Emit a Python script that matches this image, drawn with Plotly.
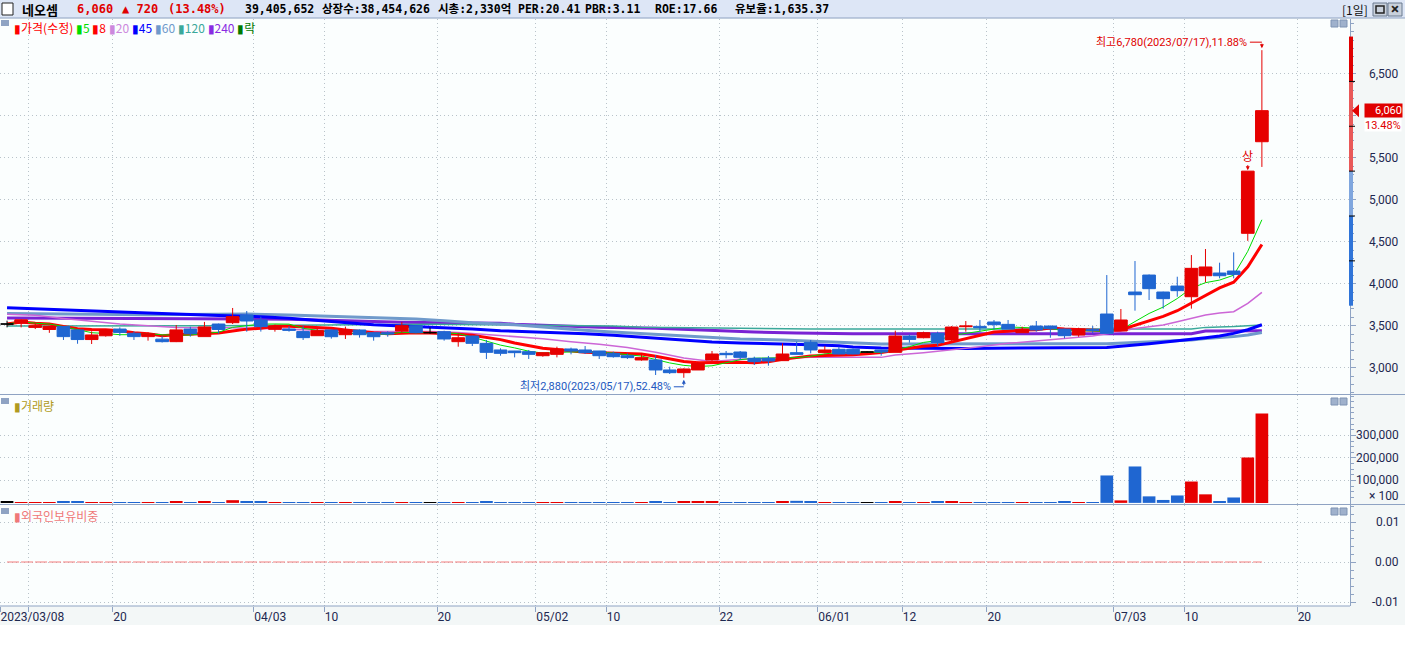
import numpy as np
import pandas as pd
import plotly.graph_objects as go

# 네오셈 일봉 2023/03/08 ~ 2023/07/17
dates = [
    "2023-03-08", "2023-03-09", "2023-03-10", "2023-03-13", "2023-03-14", "2023-03-15", "2023-03-16",
    "2023-03-17", "2023-03-20", "2023-03-21", "2023-03-22", "2023-03-23", "2023-03-24", "2023-03-27",
    "2023-03-28", "2023-03-29", "2023-03-30", "2023-03-31",
    "2023-04-03", "2023-04-04", "2023-04-05", "2023-04-06", "2023-04-07", "2023-04-10", "2023-04-11",
    "2023-04-12", "2023-04-13", "2023-04-14", "2023-04-17", "2023-04-18", "2023-04-19", "2023-04-20",
    "2023-04-21", "2023-04-24", "2023-04-25", "2023-04-26", "2023-04-27", "2023-04-28",
    "2023-05-02", "2023-05-03", "2023-05-04", "2023-05-08", "2023-05-09", "2023-05-10", "2023-05-11",
    "2023-05-12", "2023-05-15", "2023-05-16", "2023-05-17", "2023-05-18", "2023-05-19", "2023-05-22",
    "2023-05-23", "2023-05-24", "2023-05-25", "2023-05-26", "2023-05-30", "2023-05-31",
    "2023-06-01", "2023-06-02", "2023-06-05", "2023-06-07", "2023-06-08", "2023-06-09", "2023-06-12",
    "2023-06-13", "2023-06-14", "2023-06-15", "2023-06-16", "2023-06-19", "2023-06-20", "2023-06-21",
    "2023-06-22", "2023-06-23", "2023-06-26", "2023-06-27", "2023-06-28", "2023-06-29", "2023-06-30",
    "2023-07-03", "2023-07-04", "2023-07-05", "2023-07-06", "2023-07-07", "2023-07-10", "2023-07-11",
    "2023-07-12", "2023-07-13", "2023-07-14", "2023-07-17",
]

opens = [3520, 3530, 3480, 3455, 3490, 3450, 3335, 3380, 3460, 3410,
         3370, 3340, 3310, 3460, 3370, 3520, 3536, 3627, 3568, 3457,
         3460, 3430, 3381, 3449, 3393, 3449, 3417, 3417, 3437, 3500,
         3417, 3429, 3310, 3377, 3290, 3211, 3199, 3191, 3143, 3159,
         3223, 3211, 3199, 3171, 3143, 3092, 3092, 2973, 2941, 2973,
         3092, 3171, 3187, 3112, 3112, 3084, 3179, 3302, 3179, 3219,
         3219, 3187, 3211, 3183, 3377, 3357, 3409, 3330, 3488, 3492,
         3544, 3516, 3417, 3496, 3496, 3460, 3389, 3456, 3639, 3437,
         3901, 4103, 3901, 3972, 3845, 4095, 4127, 4151, 4600, 5690]
highs = [3560, 3575, 3530, 3495, 3490, 3455, 3433, 3460, 3480, 3433,
         3420, 3375, 3508, 3488, 3545, 3525, 3711, 3675, 3608, 3512,
         3496, 3500, 3465, 3455, 3489, 3455, 3420, 3433, 3545, 3505,
         3477, 3440, 3409, 3380, 3330, 3231, 3200, 3211, 3183, 3250,
         3239, 3258, 3200, 3191, 3171, 3171, 3151, 3012, 2993, 3072,
         3199, 3199, 3199, 3131, 3140, 3290, 3310, 3330, 3258, 3250,
         3230, 3195, 3215, 3441, 3397, 3429, 3429, 3496, 3556, 3568,
         3568, 3568, 3488, 3556, 3500, 3465, 3476, 3496, 4103, 3699,
         4270, 4110, 3905, 4083, 4341, 4413, 4250, 4373, 5340, 6780]
lows = [3480, 3480, 3460, 3415, 3330, 3285, 3282, 3370, 3380, 3330,
        3322, 3300, 3305, 3370, 3370, 3405, 3520, 3429, 3430, 3429,
        3429, 3330, 3381, 3346, 3342, 3358, 3322, 3369, 3417, 3409,
        3405, 3322, 3250, 3258, 3104, 3143, 3123, 3104, 3131, 3123,
        3159, 3163, 3104, 3120, 3104, 3084, 2913, 2925, 2880, 2973,
        3080, 3112, 3092, 3032, 3024, 3084, 3159, 3171, 3171, 3159,
        3159, 3180, 3143, 3183, 3298, 3350, 3258, 3318, 3429, 3429,
        3457, 3460, 3417, 3429, 3357, 3350, 3369, 3409, 3405, 3437,
        3679, 3806, 3703, 3845, 3703, 4016, 4064, 4064, 4510, 5390]
closes = [3520, 3570, 3500, 3490, 3370, 3335, 3390, 3450, 3420, 3370,
          3405, 3310, 3450, 3405, 3485, 3455, 3608, 3556, 3489, 3496,
          3445, 3358, 3441, 3369, 3449, 3393, 3369, 3401, 3500, 3417,
          3417, 3342, 3357, 3290, 3183, 3171, 3179, 3159, 3179, 3223,
          3199, 3179, 3143, 3131, 3120, 3120, 2973, 2941, 2985, 3052,
          3163, 3155, 3123, 3072, 3080, 3163, 3159, 3211, 3211, 3163,
          3163, 3187, 3187, 3377, 3337, 3417, 3298, 3484, 3496, 3476,
          3512, 3460, 3449, 3449, 3464, 3381, 3460, 3441, 3409, 3568,
          3869, 3941, 3822, 3917, 4183, 4199, 4095, 4111, 5340, 6060]

# 거래량 (단위 x100)
volumes = [4000, 3500, 2500, 3000, 4500, 5000, 3500, 3000, 2500, 3000,
           2500, 2000, 5500, 3500, 4500, 3000, 12000, 5000, 4000, 3000,
           2000, 3500, 2500, 3000, 3000, 2500, 2500, 2000, 3500, 3000,
           1500, 3500, 3000, 3500, 5000, 2500, 2000, 2500, 2000, 3000,
           2000, 2500, 3000, 2000, 2000, 2500, 6000, 3000, 4500, 4000,
           5500, 2500, 3000, 3500, 3000, 5000, 9000, 4000, 2500, 2500,
           2000, 1500, 2500, 8000, 3500, 3000, 4000, 5000, 3000, 3000,
           2500, 3000, 2500, 3000, 2500, 4000, 3000, 2000, 122000, 11000,
           162000, 29000, 13000, 33000, 95000, 38000, 4000, 24000, 202000, 398000]

foreign_ratio = [0.0] * len(dates)

# 장기 이동평균 (차트에서 읽은 값, 캔들 번호 기준)
ma20_idx = [0, 2, 4, 6, 7, 8, 10, 12, 16, 19, 22, 26, 30, 32, 35, 38, 40, 42, 44, 46,
            48, 50, 52, 54, 57, 62, 63, 65, 67, 69, 71, 73, 75, 77, 78, 79, 80, 81, 82, 83,
            84, 85, 86, 87, 88, 89]
ma20_val = [3635, 3625, 3585, 3555, 3540, 3520, 3500, 3480, 3477, 3457, 3445, 3430, 3430, 3420, 3385,
            3345, 3310, 3280, 3240, 3185, 3115, 3075, 3100, 3112, 3125, 3123, 3150, 3179, 3211, 3250,
            3290, 3318, 3349, 3377, 3405, 3437, 3468, 3488, 3508, 3548, 3588, 3627, 3650, 3667, 3766, 3897]
ma45_idx = [0, 5, 10, 15, 18, 20, 22, 24, 26, 28, 31, 33, 35, 38, 41, 43, 45, 47, 49, 50,
            52, 55, 57, 59, 60, 62, 68, 78, 79, 80, 81, 82, 83, 84, 85, 86, 87, 88, 89]
ma45_val = [3715, 3687, 3651, 3620, 3607, 3588, 3560, 3536, 3512, 3496, 3477, 3461, 3441, 3425, 3405,
            3385, 3362, 3342, 3322, 3306, 3294, 3285, 3274, 3260, 3246, 3235, 3230, 3242, 3254, 3270,
            3286, 3302, 3318, 3333, 3357, 3377, 3409, 3452, 3511]
ma60_idx = [0, 5, 10, 15, 17, 20, 23, 26, 29, 31, 33, 36, 38, 40, 42, 44, 46, 48, 50, 52,
            55, 58, 60, 62, 78, 80, 82, 84, 85, 87, 88, 89]
ma60_val = [3645, 3635, 3631, 3635, 3639, 3627, 3610, 3600, 3580, 3560, 3536, 3512, 3481, 3457, 3433,
            3413, 3393, 3377, 3358, 3342, 3330, 3310, 3290, 3282, 3285, 3298, 3310, 3330, 3349, 3370,
            3390, 3420]
ma120_idx = [0, 15, 30, 40, 43, 45, 56, 57, 84, 85, 87, 89]
ma120_val = [3496, 3500, 3516, 3505, 3496, 3481, 3470, 3462, 3460, 3480, 3490, 3508]
ma240_idx = [0, 11, 14, 20, 24, 28, 31, 35, 36, 39, 42, 46, 49, 51, 53, 56, 60, 84, 85, 89]
ma240_val = [3592, 3588, 3582, 3578, 3560, 3540, 3536, 3530, 3516, 3496, 3481, 3469, 3449, 3437, 3425,
             3413, 3405, 3405, 3437, 3440]

# x축 눈금 (캔들 번호, 라벨)
tick_idx = [0, 2, 8, 18, 23, 31, 38, 43, 51, 58, 64, 70, 79, 84, 92]
tick_text = ["2023/03/08", "", "20", "04/03", "10", "20", "05/02", "10", "22", "06/01",
             "12", "20", "07/03", "10", "20"]
price_ticks = [3000, 3500, 4000, 4500, 5000, 5500, 6000, 6500]
volume_ticks = [100000, 200000, 300000]
foreign_ticks = [0.01, 0.0, -0.01]

# 상단 종목 정보
header_items = ["39,405,652", "상장수:38,454,626", "시총:2,330억", "PER:20.41",
                "PBR:3.11", "ROE:17.66", "유보율:1,635.37"]
header_x = [243, 320, 436, 516, 583, 653, 733]

# 화면 배치
W, H = 1405, 648
PLOT_W = 1350
TOP, BOTTOM = 19, 606
PLOT_H = BOTTOM - TOP


def px_y(p):
    return (BOTTOM - p) / PLOT_H


def px_x(p):
    return p / PLOT_W


price_domain = [px_y(394), 1.0]
volume_domain = [px_y(504), px_y(395)]
foreign_domain = [0.0, px_y(505)]
price_range = [2687, 7151]
volume_range = [-5000, 480000]
foreign_range = [-0.011, 0.01425]
price_per_px = (price_range[1] - price_range[0]) / (394 - TOP)


def price_paper(p):
    lo, hi = price_range
    return price_domain[0] + (p - lo) / (hi - lo) * (price_domain[1] - price_domain[0])


UP, DOWN, DOJI = '#e60000', '#1f66d1', '#000000'
AXIS = '#8fa3c3'
GRID = '#b9c3ca'
TEXT = '#1e2850'
FONT = 'Roboto, Noto Sans CJK KR'
KFONT = 'Noto Sans CJK KR'
MONO = 'DejaVu Sans Mono, Noto Sans CJK KR'

idx = np.arange(len(dates))
o = np.array(opens)
h = np.array(highs)
l = np.array(lows)
c = np.array(closes)

ma5 = pd.Series(closes).rolling(5, min_periods=1).mean()
ma8 = pd.Series(closes).rolling(8, min_periods=1).mean()

fig = go.Figure()

# 이동평균선
ma_specs = [
    (ma240_idx, ma240_val, '#7a22d4', 3),
    (ma120_idx, ma120_val, '#3aa89a', 1.5),
    (ma60_idx, ma60_val, '#6f9acb', 3),
    (ma45_idx, ma45_val, '#0000ff', 3),
    (ma20_idx, ma20_val, '#cc66d6', 1.5),
    (idx, ma8, '#ff0000', 3),
    (idx, ma5, '#00dd00', 1),
]
for xs, ys, color, width in ma_specs:
    fig.add_trace(go.Scatter(x=list(xs), y=list(ys), mode='lines',
                             line=dict(color=color, width=width),
                             xaxis='x', yaxis='y', hoverinfo='skip', showlegend=False))

# 캔들 (양봉/음봉/보합)
for mask, color in [(c > o, UP), (c < o, DOWN), (c == o, DOJI)]:
    style = dict(line=dict(color=color, width=1), fillcolor=color)
    fig.add_trace(go.Candlestick(
        x=idx[mask], open=o[mask], high=h[mask], low=l[mask], close=c[mask],
        increasing=style, decreasing=style, whiskerwidth=0,
        xaxis='x', yaxis='y2', hoverinfo='skip', showlegend=False))

# 거래량
vol_colors = np.where(c > o, UP, np.where(c < o, DOWN, DOJI))
fig.add_trace(go.Bar(x=idx, y=volumes, marker=dict(color=list(vol_colors), line=dict(width=0)),
                     xaxis='x2', yaxis='y3', hoverinfo='skip', showlegend=False))

# 외국인보유비중
fig.add_trace(go.Scatter(x=idx, y=foreign_ratio, mode='lines',
                         line=dict(color='#f47c7c', width=1, dash='12px,2px'),
                         xaxis='x3', yaxis='y4', hoverinfo='skip', showlegend=False))

x_common = dict(range=[-0.5, 95.25], tickmode='array', tickvals=[i - 0.5 for i in tick_idx],
                showgrid=True, gridcolor=GRID, griddash='1px,3px', gridwidth=1,
                zeroline=False, showline=False, fixedrange=True)
y_common = dict(side='right', showgrid=True, gridcolor=GRID, griddash='1px,3px', gridwidth=1,
                zeroline=False, showline=True, linecolor=AXIS, linewidth=1,
                ticks='outside', ticklen=5, tickcolor=AXIS, showticklabels=False)

fig.update_layout(
    width=W, height=H,
    margin=dict(l=0, r=W - PLOT_W, t=TOP, b=H - BOTTOM),
    paper_bgcolor='#f3f7f7', plot_bgcolor='#fbfefe',
    font=dict(family=FONT, size=12, color=TEXT),
    showlegend=False, boxgap=0.1, boxgroupgap=0, bargap=0.1,
    xaxis=dict(**x_common, anchor='y', showticklabels=False, rangeslider=dict(visible=False)),
    xaxis2=dict(**x_common, anchor='y3', matches='x', showticklabels=False),
    xaxis3=dict(**x_common, anchor='y4', matches='x', ticktext=tick_text, ticks='outside',
                ticklen=5, tickcolor=AXIS, ticklabelposition='outside right',
                tickfont=dict(family=FONT, size=12, color=TEXT)),
    yaxis=dict(**y_common, domain=price_domain, range=price_range, anchor='x',
               tickmode='array', tickvals=price_ticks,
               minor=dict(tickmode='array', tickvals=list(range(2700, 7200, 100)),
                          ticks='outside', ticklen=3, tickcolor=AXIS, showgrid=False)),
    yaxis2=dict(overlaying='y', range=price_range, visible=False, anchor='x', fixedrange=True),
    yaxis3=dict(**y_common, domain=volume_domain, range=volume_range, anchor='x2',
                tickmode='array', tickvals=volume_ticks,
                minor=dict(tickmode='array', tickvals=list(range(25000, 480000, 25000)),
                           ticks='outside', ticklen=3, tickcolor=AXIS, showgrid=False)),
    yaxis4=dict(**y_common, domain=foreign_domain, range=foreign_range, anchor='x3',
                tickmode='array', tickvals=foreign_ticks,
                minor=dict(tickmode='array', tickvals=[-0.01, -0.008, -0.006, -0.004, -0.002, 0.002,
                                                        0.004, 0.006, 0.008, 0.012, 0.014],
                           ticks='outside', ticklen=3, tickcolor=AXIS, showgrid=False)),
)

shapes = []
ann = []


def label(x, y, text, size=12, color=TEXT, family=FONT, xanchor='left', **kw):
    """화면 픽셀 좌표에 놓는 글자"""
    ann.append(dict(x=px_x(x), y=px_y(y), xref='paper', yref='paper', xanchor=xanchor,
                    yanchor='middle', showarrow=False, text=text,
                    font=dict(family=family, size=size, color=color), **kw))


# 상단 타이틀바
shapes.append(dict(type='rect', xref='paper', yref='paper', x0=0, x1=px_x(W),
                   y0=px_y(18), y1=px_y(0), fillcolor='#dde6f6', line=dict(width=0)))
shapes.append(dict(type='line', xref='paper', yref='paper', x0=0, x1=px_x(W),
                   y0=px_y(18), y1=px_y(18), line=dict(color=AXIS, width=1)))
shapes.append(dict(type='rect', xref='paper', yref='paper', x0=px_x(2), x1=px_x(13),
                   y0=px_y(15), y1=px_y(3), fillcolor='white', line=dict(color='#222', width=1)))
for bx in (1373, 1388):
    shapes.append(dict(type='rect', xref='paper', yref='paper', x0=px_x(bx), x1=px_x(bx + 14),
                       y0=px_y(16), y1=px_y(3), fillcolor='#c9d1dc', line=dict(color='#6a7a90', width=1)))
shapes.append(dict(type='rect', xref='paper', yref='paper', x0=px_x(1376), x1=px_x(1384),
                   y0=px_y(13), y1=px_y(6), fillcolor='rgba(0,0,0,0)', line=dict(color='#222', width=1.5)))
label(1395, 9.5, '<b>×</b>', size=15, color='#222', xanchor='center')
label(1340, 9.5, '[1일]', size=12, color='#111', family=KFONT)

last, prev = closes[-1], closes[-2]
chg = last - prev
pct = chg / prev * 100
label(20, 9.5, '<b>네오셈</b>', size=13, color='#000', family=KFONT)
label(75, 9.5, f'<b>{last:,}</b>', color='#e00000', family=MONO)
label(120, 9.5, f'<b>▲ {chg:,}</b>', color='#e00000', family=MONO)
label(166, 9.5, f'<b>({pct:.2f}%)</b>', color='#e00000', family=MONO)
for hx, txt in zip(header_x, header_items):
    label(hx, 9.5, f'<b>{txt}</b>', size=11.5, color='#000', family=MONO)

# 패널 구분선, 하단 여백
for yy in (394.5, 504.5):
    shapes.append(dict(type='line', xref='paper', yref='paper', x0=0, x1=px_x(W),
                       y0=px_y(yy), y1=px_y(yy), line=dict(color=AXIS, width=1.2)))
shapes.append(dict(type='line', xref='paper', yref='paper', x0=0, x1=1,
                   y0=0, y1=0, line=dict(color=AXIS, width=1.2)))
shapes.append(dict(type='rect', xref='paper', yref='paper', x0=0, x1=px_x(W),
                   y0=px_y(H), y1=px_y(625), fillcolor='white', line=dict(width=0)))

# 패널 좌상단 표시 / 우상단 버튼
for top in (20, 398, 508):
    shapes.append(dict(type='rect', xref='paper', yref='paper', x0=px_x(1), x1=px_x(9),
                       y0=px_y(top + 6), y1=px_y(top), fillcolor='#8fa3c3', line=dict(width=0)))
    for bx in (1331, 1340):
        shapes.append(dict(type='rect', xref='paper', yref='paper', x0=px_x(bx), x1=px_x(bx + 7),
                           y0=px_y(top + 7), y1=px_y(top), fillcolor='#9fb1cc',
                           line=dict(color='#7f93b3', width=1)))

# 범례
legend_items = [('가격(수정)', '#ff0000'), ('5', '#00dd00'), ('8', '#ff0000'), ('20', '#cc88dd'),
                ('45', '#0000ff'), ('60', '#6f9acb'), ('120', '#3aa89a'), ('240', '#8a2be2'),
                ('락', '#007a00')]
legend_txt = ' '.join(f"<span style='color:{col}'>▮{t}</span>" for t, col in legend_items)
label(12, 27.5, legend_txt, family=KFONT)
label(12, 405.5, '▮거래량', color='#b09a20', family=KFONT)
label(12, 515.5, '▮외국인보유비중', color='#f07878', family=KFONT)

# 오른쪽 축 라벨 (현재가 표시에 가려지는 눈금은 생략)
last, prev = closes[-1], closes[-2]
for v in price_ticks:
    if abs(v - last) < 20 * price_per_px:
        continue
    ann.append(dict(x=px_x(1401), y=v, xref='paper', yref='y', xanchor='right', yanchor='middle',
                    showarrow=False, text=f'{v:,}', font=dict(family=FONT, size=12, color=TEXT)))
for v in volume_ticks:
    ann.append(dict(x=px_x(1401), y=v, xref='paper', yref='y3', xanchor='right', yanchor='middle',
                    showarrow=False, text=f'{v:,}', font=dict(family=FONT, size=12, color=TEXT)))
label(1401, 495.5, '× 100', xanchor='right')
for v in foreign_ticks:
    ann.append(dict(x=px_x(1401), y=v, xref='paper', yref='y4', xanchor='right', yanchor='middle',
                    showarrow=False, text=f'{v:.2f}', font=dict(family=FONT, size=12, color=TEXT)))

# 가격 축 위 상/하한 범위 막대
band_edges = [1.3, 1.2, 1.0, 0.9, 0.7]
band_colors = ['#e00000', '#e95858', '#7fa6de', '#2f74d8']
for a, b, col in zip(band_edges[:-1], band_edges[1:], band_colors):
    shapes.append(dict(type='rect', xref='paper', yref='paper', x0=px_x(1349), x1=px_x(1353),
                       y0=price_paper(prev * b), y1=price_paper(prev * a), fillcolor=col, line=dict(width=0)))
for lv in (1.2, 1.1, 1.0, 0.9, 0.8):
    shapes.append(dict(type='line', xref='paper', yref='paper', x0=px_x(1349), x1=px_x(1355),
                       y0=price_paper(prev * lv), y1=price_paper(prev * lv), line=dict(color='#000', width=1)))

# 현재가 표시
tri_h = 6.5 * price_per_px
shapes.append(dict(type='path', xref='paper', yref='paper',
                   path=f'M {px_x(1352)},{price_paper(last)} L {px_x(1359)},{price_paper(last + tri_h)} '
                        f'L {px_x(1359)},{price_paper(last - tri_h)} Z',
                   fillcolor='#e00000', line=dict(width=0)))
ann.append(dict(x=px_x(1403), y=last, xref='paper', yref='y', xanchor='right', yanchor='middle',
                showarrow=False, text=f'{last:,}', bgcolor='#e00000', width=37, height=13, align='right',
                borderpad=0, font=dict(family=FONT, size=11, color='white')))
ann.append(dict(x=px_x(1402), y=last, yshift=-14, xref='paper', yref='y', xanchor='right', yanchor='middle',
                showarrow=False, text=f'{pct:.2f}%', bgcolor='white', height=12, borderpad=0,
                font=dict(family=FONT, size=11, color='#e00000')))

# 최고/최저 표시
i_hi = int(np.argmax(h))
i_lo = int(np.argmin(l))
hi, lo = int(h[i_hi]), int(l[i_lo])
hi_txt = f"최고{hi:,}({dates[i_hi].replace('-', '/')}),{(hi - last) / last * 100:.2f}%"
lo_txt = f"최저{lo:,}({dates[i_lo].replace('-', '/')}),{(last - lo) / last * 100:.2f}%"
hi_y = hi + 8 * price_per_px
ann.append(dict(x=i_hi, y=hi_y, xref='x', yref='y', xanchor='right', yanchor='middle', xshift=-13,
                showarrow=False, text=hi_txt, font=dict(family=FONT, size=11, color='#e00000')))
shapes.append(dict(type='line', xref='x', yref='y', x0=i_hi - 12 / 14.1, x1=i_hi, y0=hi_y, y1=hi_y,
                   line=dict(color='#e00000', width=1)))
ann.append(dict(x=i_hi, y=hi + 2 * price_per_px, ax=i_hi, ay=hi_y, xref='x', yref='y', axref='x', ayref='y',
                text='', showarrow=True, arrowhead=2, arrowsize=0.8, arrowwidth=1, arrowcolor='#e00000'))
lo_y = lo - 9 * price_per_px
ann.append(dict(x=i_lo, y=lo_y, xref='x', yref='y', xanchor='right', yanchor='middle', xshift=-11,
                showarrow=False, text=lo_txt, font=dict(family=FONT, size=11, color='#2458c0')))
shapes.append(dict(type='line', xref='x', yref='y', x0=i_lo - 10 / 14.1, x1=i_lo, y0=lo_y, y1=lo_y,
                   line=dict(color='#2458c0', width=1)))
ann.append(dict(x=i_lo, y=lo - 2 * price_per_px, ax=i_lo, ay=lo_y, xref='x', yref='y', axref='x', ayref='y',
                text='', showarrow=True, arrowhead=2, arrowsize=0.8, arrowwidth=1, arrowcolor='#2458c0'))

# 상한가 표시
i_up = len(closes) - 2
ann.append(dict(x=i_up, y=h[i_up] + 1 * price_per_px, xref='x', yref='y', ax=0, ay=-15,
                text='상', showarrow=True, arrowhead=2, arrowsize=0.8, arrowwidth=1,
                arrowcolor='#e00000', font=dict(family=KFONT, size=12, color='#e00000')))

fig.update_layout(shapes=shapes, annotations=ann)
fig.write_html("out.html", config={'displayModeBar': False},
               post_script="document.body.style.margin='0';")
